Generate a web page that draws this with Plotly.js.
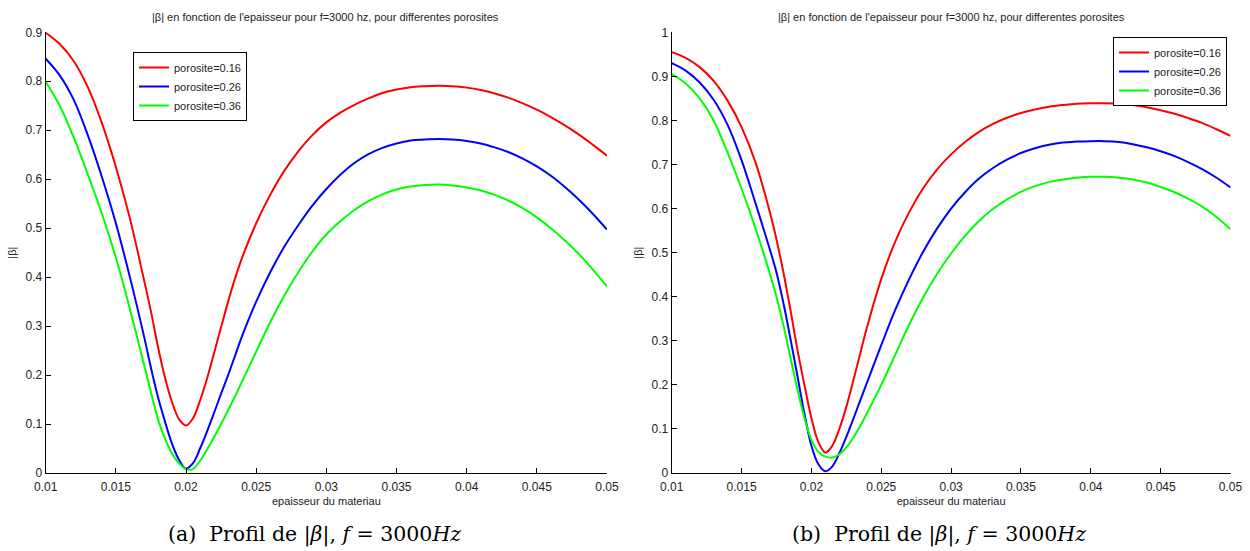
<!DOCTYPE html>
<html>
<head>
<meta charset="utf-8">
<script src="https://cdn.plot.ly/plotly-3.0.1.min.js"></script>
<style>html,body{margin:0;padding:0;background:#fff;}#chart{width:1250px;height:551px;}</style>
</head>
<body>
<div id="chart"></div>
<script>
// ---------- data ----------
const seriesNames = ["porosite=0.16", "porosite=0.26", "porosite=0.36"];
const seriesColors = ["#ff0000", "#0000ff", "#00ff00"];

const xThickness = [0.010, 0.011, 0.012, 0.013, 0.014, 0.015, 0.016, 0.017, 0.0175, 0.018, 0.0185, 0.019, 0.0195,
  0.020, 0.0205, 0.021, 0.0215, 0.022, 0.0225, 0.023, 0.0235, 0.024, 0.025, 0.026, 0.027, 0.028, 0.029, 0.030,
  0.031, 0.032, 0.033, 0.034, 0.035, 0.036, 0.037, 0.038, 0.039, 0.040, 0.041, 0.042, 0.043, 0.044, 0.045,
  0.046, 0.047, 0.048, 0.049, 0.050];

// (a) left panel
const leftP016 = [0.899, 0.876, 0.841, 0.788, 0.715, 0.625, 0.520, 0.395, 0.330, 0.258, 0.195, 0.145, 0.110,
  0.097, 0.112, 0.148, 0.193, 0.245, 0.298, 0.350, 0.398, 0.440, 0.510, 0.568, 0.617, 0.657, 0.690, 0.716,
  0.736, 0.752, 0.765, 0.776, 0.783, 0.788, 0.790, 0.791, 0.790, 0.787, 0.782, 0.775, 0.766, 0.755, 0.742,
  0.727, 0.710, 0.691, 0.670, 0.648];
const leftP026 = [0.846, 0.812, 0.762, 0.690, 0.605, 0.510, 0.400, 0.280, 0.215, 0.155, 0.105, 0.060, 0.027,
  0.009, 0.020, 0.050, 0.085, 0.123, 0.162, 0.200, 0.240, 0.280, 0.350, 0.410, 0.462, 0.506, 0.546, 0.580,
  0.609, 0.633, 0.651, 0.664, 0.673, 0.679, 0.681, 0.682, 0.681, 0.678, 0.673, 0.665, 0.655, 0.642, 0.626,
  0.607, 0.584, 0.558, 0.529, 0.497];
const leftP036 = [0.799, 0.750, 0.685, 0.610, 0.530, 0.440, 0.335, 0.222, 0.165, 0.110, 0.070, 0.040, 0.020,
  0.008, 0.008, 0.025, 0.048, 0.073, 0.100, 0.128, 0.157, 0.187, 0.248, 0.308, 0.362, 0.410, 0.452, 0.487,
  0.514, 0.537, 0.555, 0.569, 0.579, 0.585, 0.588, 0.589, 0.587, 0.583, 0.577, 0.568, 0.556, 0.541, 0.522,
  0.500, 0.475, 0.447, 0.415, 0.381];

// (b) right panel
const rightP016 = [0.955, 0.942, 0.921, 0.890, 0.845, 0.785, 0.705, 0.595, 0.530, 0.455, 0.370, 0.280, 0.200,
  0.125, 0.070, 0.046, 0.062, 0.100, 0.150, 0.210, 0.272, 0.333, 0.440, 0.525, 0.592, 0.646, 0.689, 0.723,
  0.751, 0.774, 0.792, 0.806, 0.817, 0.825, 0.831, 0.835, 0.838, 0.839, 0.839, 0.838, 0.835, 0.830, 0.823,
  0.815, 0.805, 0.794, 0.780, 0.765];
const rightP026 = [0.930, 0.913, 0.886, 0.847, 0.790, 0.710, 0.612, 0.510, 0.455, 0.385, 0.305, 0.220, 0.135,
  0.062, 0.020, 0.004, 0.015, 0.045, 0.082, 0.123, 0.165, 0.207, 0.290, 0.370, 0.440, 0.502, 0.555, 0.600,
  0.637, 0.668, 0.692, 0.711, 0.726, 0.737, 0.745, 0.750, 0.752, 0.753, 0.753, 0.751, 0.746, 0.739, 0.730,
  0.719, 0.705, 0.689, 0.670, 0.648];
const rightP036 = [0.905, 0.884, 0.850, 0.800, 0.727, 0.645, 0.555, 0.455, 0.400, 0.335, 0.262, 0.190, 0.125,
  0.075, 0.048, 0.037, 0.035, 0.042, 0.058, 0.080, 0.107, 0.137, 0.200, 0.268, 0.337, 0.398, 0.452, 0.498,
  0.538, 0.572, 0.599, 0.621, 0.638, 0.651, 0.660, 0.666, 0.670, 0.672, 0.672, 0.670, 0.666, 0.659, 0.649,
  0.637, 0.622, 0.604, 0.581, 0.553];

const xTickVals = [0.01, 0.015, 0.02, 0.025, 0.03, 0.035, 0.04, 0.045, 0.05];
const xTickText = ["0.01", "0.015", "0.02", "0.025", "0.03", "0.035", "0.04", "0.045", "0.05"];

const titleText = "|β| en fonction de l'epaisseur pour f=3000 hz, pour differentes porosites";
const xTitleText = "epaisseur du materiau";
const yTitleText = "|β|";
const captionA = "(a)  Profil de |<i>β</i>|, <i>f</i> = 3000<i>Hz</i>";
const captionB = "(b)  Profil de |<i>β</i>|, <i>f</i> = 3000<i>Hz</i>";

// ---------- figure ----------
const W = 1250, H = 551;
const px = v => v / W;
const py = v => 1 - v / H;

const leftSeries = [leftP016, leftP026, leftP036];
const rightSeries = [rightP016, rightP026, rightP036];

const traces = [];
leftSeries.forEach((ys, i) => traces.push({
  x: xThickness, y: ys, type: "scatter", mode: "lines", name: seriesNames[i],
  line: {color: seriesColors[i], width: 2, shape: "spline", smoothing: 1},
  xaxis: "x", yaxis: "y", legend: "legend", hoverinfo: "skip"
}));
rightSeries.forEach((ys, i) => traces.push({
  x: xThickness, y: ys, type: "scatter", mode: "lines", name: seriesNames[i],
  line: {color: seriesColors[i], width: 2, shape: "spline", smoothing: 1},
  xaxis: "x2", yaxis: "y2", legend: "legend2", hoverinfo: "skip"
}));

const tickFont = {family: "Liberation Sans, Arial, sans-serif", size: 12, color: "#222"};
const labFont = {family: "Liberation Sans, Arial, sans-serif", size: 11, color: "#222"};

function xAxis(domain, anchor) {
  return {
    domain: domain, anchor: anchor, range: [0.01, 0.05],
    tickvals: xTickVals, ticktext: xTickText,
    showline: true, linecolor: "#000", linewidth: 1, mirror: false,
    ticks: "inside", ticklen: 5, tickcolor: "#000", tickwidth: 1,
    ticklabelstandoff: 3,
    showgrid: false, zeroline: false, tickfont: tickFont,
    title: {text: xTitleText, font: labFont, standoff: 3}
  };
}
function yAxis(domain, anchor, range, dtick) {
  return {
    domain: domain, anchor: anchor, range: range, dtick: dtick, tick0: 0,
    showline: true, linecolor: "#000", linewidth: 1, mirror: false,
    ticks: "inside", ticklen: 5, tickcolor: "#000", tickwidth: 1,
    showgrid: false, zeroline: false, tickfont: tickFont,
    title: {text: yTitleText, font: labFont, standoff: 6}
  };
}

const yDom = [py(473), py(32.3)];
const layout = {
  width: W, height: H,
  margin: {l: 0, r: 0, t: 0, b: 0},
  paper_bgcolor: "#fff", plot_bgcolor: "#fff",
  showlegend: true,
  xaxis: xAxis([px(45.7), px(607)], "y"),
  yaxis: yAxis(yDom, "x", [0, 0.9], 0.1),
  xaxis2: xAxis([px(671.7), px(1230.5)], "y2"),
  yaxis2: yAxis(yDom, "x2", [0, 1], 0.1),
  legend: {
    x: px(133), y: py(52), xanchor: "left", yanchor: "top",
    bgcolor: "#fff", bordercolor: "#000", borderwidth: 1,
    font: labFont, tracegroupgap: 0, itemwidth: 30
  },
  legend2: {
    x: px(1227), y: py(37), xanchor: "right", yanchor: "top",
    bgcolor: "#fff", bordercolor: "#000", borderwidth: 1,
    font: labFont, tracegroupgap: 0, itemwidth: 30
  },
  annotations: [
    {text: titleText, xref: "paper", yref: "paper", x: px(326), y: py(17), xanchor: "center", yanchor: "middle",
     showarrow: false, font: labFont},
    {text: titleText, xref: "paper", yref: "paper", x: px(951), y: py(17), xanchor: "center", yanchor: "middle",
     showarrow: false, font: labFont},
    {text: captionA, xref: "paper", yref: "paper", x: px(314), y: py(534), xanchor: "center", yanchor: "middle",
     showarrow: false, font: {family: "DejaVu Serif, Liberation Serif, serif", size: 20.5, color: "#000"}},
    {text: captionB, xref: "paper", yref: "paper", x: px(939), y: py(534), xanchor: "center", yanchor: "middle",
     showarrow: false, font: {family: "DejaVu Serif, Liberation Serif, serif", size: 20.5, color: "#000"}}
  ]
};

Plotly.newPlot("chart", traces, layout, {staticPlot: true, displayModeBar: false});
</script>
</body>
</html>
